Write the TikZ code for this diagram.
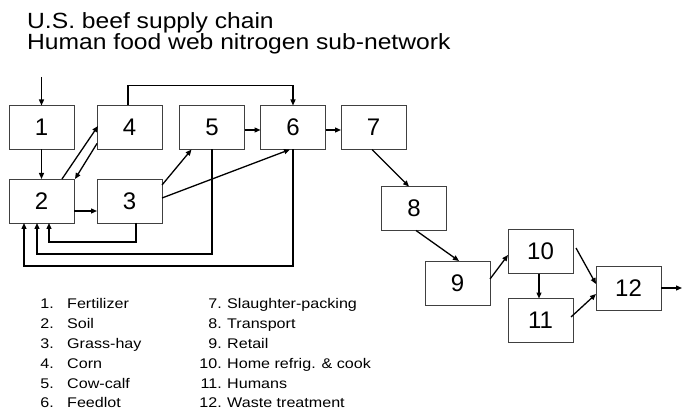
\documentclass[tikz,border=0pt]{standalone}
\usepackage{fontspec}
\setmainfont{Liberation Sans}
\newfontfamily\widefont[FakeStretch=1.12]{Liberation Sans}
\newfontfamily\legfont[FakeStretch=1.15]{Liberation Sans}
\usetikzlibrary{arrows.meta,calc}
\begin{document}
\begin{tikzpicture}[x=1pt,y=-1pt,
  box/.style={draw=black!75,line width=0.9pt,minimum width=65pt,minimum height=44pt,inner sep=0pt,outer sep=0pt,font=\fontsize{24}{24}\selectfont},
  arr/.style={draw=black,line width=1.3pt,-{Triangle[length=6pt,width=5pt]}},
  titletxt/.style={anchor=base west,inner sep=0pt,font=\widefont\fontsize{22}{22}\selectfont},
  lnum/.style={anchor=base east,inner sep=0pt,font=\legfont\fontsize{14}{14}\selectfont},
  ltxt/.style={anchor=base west,inner sep=0pt,font=\legfont\fontsize{14}{14}\selectfont}]
\useasboundingbox (0,0) rectangle (686,409);
% titles
\node[titletxt] (t1) at (27,29) {U.S. beef supply chain};
\node[titletxt] (t2) at (27,50) {Human food web nitrogen sub-network};
% boxes
\node[box] (n1) at (41.5,127.5) {1};
\node[box] (n4) at (129.5,127.5) {4};
\node[box] (n5) at (212,127.5) {5};
\node[box] (n6) at (293,127.5) {6};
\node[box] (n7) at (373.5,127.5) {7};
\node[box] (n2) at (41.5,201) {2};
\node[box] (n3) at (129.5,201) {3};
\node[box] (n8) at (414,208.5) {8};
\node[box] (n9) at (457.5,283) {9};
\node[box] (n10) at (540.5,251.5) {10};
\node[box] (n11) at (540.5,320.5) {11};
\node[box] (n12) at (628.5,288) {12};
% connectors
\coordinate (in1) at (41.5,77);
\coordinate (out12) at (682,288);
\draw[arr] (in1) -- (n1);
\draw[arr] (n1) -- (n2);
\draw[arr] ($(n2.north west)+(53,0)$) -- ($(n4.west)+(1,-1.5)$);
\draw[arr] ($(n4.south west)+(0,-6)$) -- ($(n2.north east)+(1,0)$);
\draw[arr] ($(n2.east)+(0,10)$) -- ($(n3.west)+(0,10)$);
\draw[arr] ($(n5.east)+(0,2.5)$) -- ($(n6.west)+(0,2.5)$);
\draw[arr] ($(n6.east)+(0,2.5)$) -- ($(n7.west)+(0,2.5)$);
\draw[arr] ($(n4.north)+(-1.5,0)$) -- ++(0,-20) -| (n6.north);
\draw[arr] ($(n3.north east)+(0,6)$) -- ($(n5.south west)+(12,0)$);
\draw[arr] ($(n3.east)+(0,-3)$) -- ($(n6.south)+(-3,0)$);
\draw[arr] ($(n3.south)+(6.5,0)$) -- ++(0,19) -| ($(n2.south)+(7.5,0)$);
\draw[arr] (n5.south) -- ++(0,104.5) -| ($(n2.south)+(-4.5,0)$);
\draw[arr] (n6.south) -- ++(0,116.5) -| ($(n2.south)+(-17.5,0)$);
\draw[arr] ($(n7.south)+(-1.5,0)$) -- ($(n8.north)+(-5,0)$);
\draw[arr] ($(n8.south)+(2,0)$) -- ($(n9.north)+(1.5,0)$);
\draw[arr] ($(n9.east)+(0,-4)$) -- ($(n10.west)+(0,3.5)$);
\draw[arr] ($(n10.south)+(-1.5,0)$) -- ($(n11.north)+(-1.5,0)$);
\draw[arr] ($(n10.east)+(3,-3.5)$) -- ($(n12.west)+(0,-4)$);
\draw[arr] ($(n11.east)+(-2,-3.5)$) -- ($(n12.west)+(0,6)$);
\draw[arr] (n12.east) -- (out12);
% legend left
\node[lnum] (l1n) at (54,308) {1.};
\node[ltxt] (l1t) at (67,308) {Fertilizer};
\node[lnum] (l2n) at (54,328) {2.};
\node[ltxt] (l2t) at (67,328) {Soil};
\node[lnum] (l3n) at (54,348) {3.};
\node[ltxt] (l3t) at (67,348) {Grass-hay};
\node[lnum] (l4n) at (54,368) {4.};
\node[ltxt] (l4t) at (67,368) {Corn};
\node[lnum] (l5n) at (54,388) {5.};
\node[ltxt] (l5t) at (67,388) {Cow-calf};
\node[lnum] (l6n) at (54,407) {6.};
\node[ltxt] (l6t) at (67,407) {Feedlot};
% legend right
\node[lnum] (l7n) at (222,308) {7.};
\node[ltxt] (l7t) at (227,308) {Slaughter-packing};
\node[lnum] (l8n) at (222,328) {8.};
\node[ltxt] (l8t) at (227,328) {Transport};
\node[lnum] (l9n) at (222,348) {9.};
\node[ltxt] (l9t) at (227,348) {Retail};
\node[lnum] (l10n) at (222,368) {10.};
\node[ltxt] (l10t) at (227,368) {Home refrig. \& cook};
\node[lnum] (l11n) at (222,388) {11.};
\node[ltxt] (l11t) at (227,388) {Humans};
\node[lnum] (l12n) at (222,407) {12.};
\node[ltxt] (l12t) at (227,407) {Waste treatment};
\end{tikzpicture}
\end{document}
